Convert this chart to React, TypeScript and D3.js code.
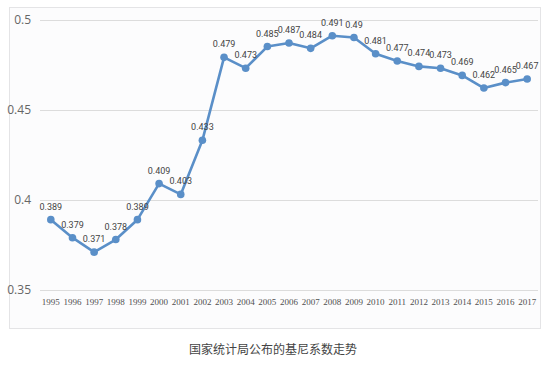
import * as d3 from 'd3';
import React from 'react';

const years = ['1995', '1996', '1997', '1998', '1999', '2000', '2001', '2002', '2003', '2004', '2005', '2006',
  '2007', '2008', '2009', '2010', '2011', '2012', '2013', '2014', '2015', '2016', '2017'];
const gini = [0.389, 0.379, 0.371, 0.378, 0.389, 0.409, 0.403, 0.433, 0.479, 0.473, 0.485, 0.487,
  0.484, 0.491, 0.49, 0.481, 0.477, 0.474, 0.473, 0.469, 0.462, 0.465, 0.467];
const yTicks = [0.35, 0.4, 0.45, 0.5];
const title = '国家统计局公布的基尼系数走势';

const width = 555;
const height = 366;
const box = { left: 9, top: 7, right: 540, bottom: 328 };
const plot = { left: 40, right: 538, top: 19.5, bottom: 290 };
const lineColor = '#5a8fc8';

export default function App() {
  const x = d3.scaleBand<string>().domain(years).range([plot.left, plot.right]);
  const y = d3.scaleLinear().domain([0.35, 0.5]).range([plot.bottom, plot.top]);
  const cx = (d: string) => x(d)! + x.bandwidth() / 2;

  const line = d3.line<number>()
    .x((_, i) => cx(years[i]))
    .y((d) => y(d));

  return (
    <svg width={width} height={height} style={{ position: 'absolute', left: 0, top: 0 }}>
      <rect x={0} y={0} width={width} height={height} fill="#ffffff" />
      <rect x={box.left + 0.5} y={box.top + 0.5} width={box.right - box.left} height={box.bottom - box.top}
        fill="#fcfcfd" stroke="#e4e4e6" strokeWidth={1} />
      {yTicks.map((t) => (
        <g key={t}>
          <line x1={plot.left} x2={plot.right} y1={Math.round(y(t)) + 0.5} y2={Math.round(y(t)) + 0.5}
            stroke="#dcdcdc" strokeWidth={1} />
          <text x={31} y={y(t)} dy="0.35em" textAnchor="end" fontSize={12}
            fontFamily="'Open Sans', 'DejaVu Sans', sans-serif" fill="#666666">{String(t)}</text>
        </g>
      ))}
      {years.map((yr) => (
        <text key={yr} x={cx(yr)} y={302} dy="0.35em" textAnchor="middle" fontSize={9}
          fontFamily="'Liberation Serif', serif" fill="#505050">{yr}</text>
      ))}
      <path d={line(gini) || ''} fill="none" stroke={lineColor} strokeWidth={2.6} strokeLinejoin="round" />
      {gini.map((v, i) => (
        <g key={years[i]}>
          <circle cx={cx(years[i])} cy={y(v)} r={3.8} fill={lineColor} />
          <text x={cx(years[i])} y={y(v) - 10} textAnchor="middle" fontSize={9}
            fontFamily="Roboto, 'DejaVu Sans', sans-serif" fill="#444444">{String(v)}</text>
        </g>
      ))}
      <text x={273} y={350} dy="0.35em" textAnchor="middle" fontSize={12}
        fontFamily="'Noto Sans CJK SC', sans-serif" fill="#444444">{title}</text>
    </svg>
  );
}
